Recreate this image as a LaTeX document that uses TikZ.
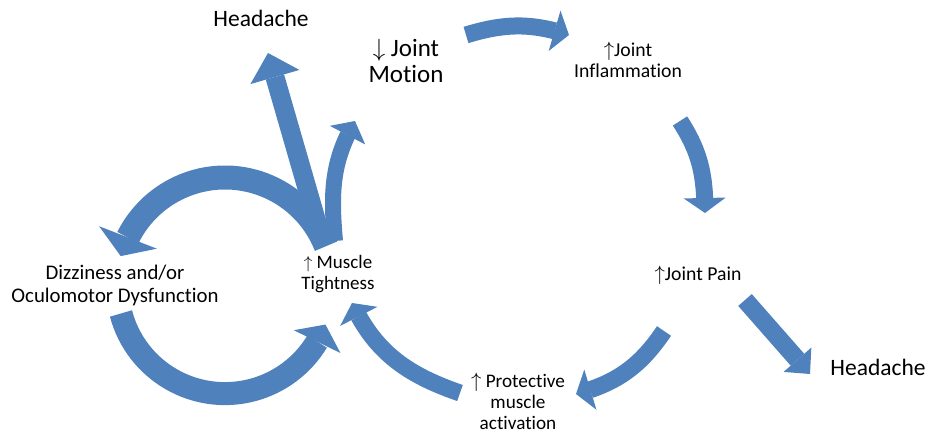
\documentclass[tikz,border=0pt]{standalone}
\usepackage{fontspec}
\setmainfont[Ligatures=NoCommon]{Carlito}
\usetikzlibrary{arrows.meta,bending}
\definecolor{ink}{HTML}{000000}
\definecolor{flow}{HTML}{4F81BD}
\tikzset{
  lbl/.style={align=center, anchor=base, inner sep=0pt, text=ink},
  barrow/.style={draw=flow, line width=17pt,
                 -{Triangle[length=15pt,width=42pt,line width=0pt]}},
  bigarrow/.style={draw=flow, line width=24pt,
                   -{Triangle[length=20pt,width=62pt,line width=0pt]}},
}
\newcommand{\incr}{$\uparrow$}
\newcommand{\decr}{$\downarrow$}

\begin{document}
\begin{tikzpicture}[x=1pt,y=1pt]
\useasboundingbox (0,0) rectangle (927,434);
  % concepts (anchored on the last baseline)
  \node[lbl, font=\fontsize{23.5}{27}\selectfont] (headA) at (261,407) {Headache};
  \node[lbl, font=\fontsize{25}{26.5}\selectfont] (motion) at (406,351) {\decr\ Joint\\Motion};
  \node[lbl, font=\fontsize{19.7}{21}\selectfont] (inflam) at (628,356) {\incr Joint\\Inflammation};
  \node[lbl, font=\fontsize{19.7}{23}\selectfont] (pain) at (698,153) {\incr Joint Pain};
  \node[lbl, font=\fontsize{23.5}{27}\selectfont] (headB) at (878,58) {Headache};
  \node[lbl, font=\fontsize{19.2}{21}\selectfont] (protect) at (518,4) {\incr\ Protective\\muscle\\activation};
  \node[lbl, font=\fontsize{19}{21}\selectfont] (muscle) at (338,144) {\incr\ Muscle\\Tightness};
  \node[lbl, font=\fontsize{20.8}{23}\selectfont] (dizzy) at (115,131) {Dizziness and/or\\Oculomotor Dysfunction};
  % arrow ends
  \coordinate (hub) at (225,148);
  \coordinate (motion-out) at (466,399);
  \coordinate (inflam-in) at (569,399);
  \coordinate (inflam-out) at (680,313);
  \coordinate (pain-in) at (705,221);
  \coordinate (pain-out1) at (745,134);
  \coordinate (headB-in) at (810,60);
  \coordinate (pain-out2) at (664,103);
  \coordinate (protect-in) at (576,40);
  \coordinate (protect-out) at (460,41);
  \coordinate (muscle-in) at (352,131);
  \coordinate (muscle-out1) at (322,194);
  \coordinate (headA-in) at (268,381);
  \coordinate (muscle-out2) at (335,193);
  \coordinate (motion-in) at (355,313);
  % the loop
  \draw[barrow] (motion-out) to[out=17,in=162] (inflam-in);
  \draw[barrow] (inflam-out) to[out=-57,in=90] (pain-in);
  \draw[barrow] (pain-out2) to[out=236,in=15] (protect-in);
  \draw[barrow] (protect-out) to[out=161,in=295] (muscle-in);
  \draw[barrow, line width=16pt, -{Triangle[length=16pt,width=40pt,line width=0pt]}]
    (muscle-out2) to[out=95,in=240] (motion-in);
  % side effects
  \draw[barrow, line width=18pt, -{Triangle[length=19pt,width=37pt,line width=0pt]}]
    (pain-out1) -- (headB-in);
  \draw[barrow, line width=19pt, -{Triangle[length=25pt,width=51pt,line width=0pt]}]
    (muscle-out1) -- (headA-in);
  \draw[bigarrow] ([shift={(21.5:108.5)}]hub) arc[start angle=21.5, end angle=164, radius=108.5];
  \draw[bigarrow, line width=23pt, -{Triangle[length=19pt,width=52pt,line width=0pt]}]
    ([shift={(194.8:107.6)}]hub) arc[start angle=194.8, end angle=339, radius=107.6];
\end{tikzpicture}
\end{document}
